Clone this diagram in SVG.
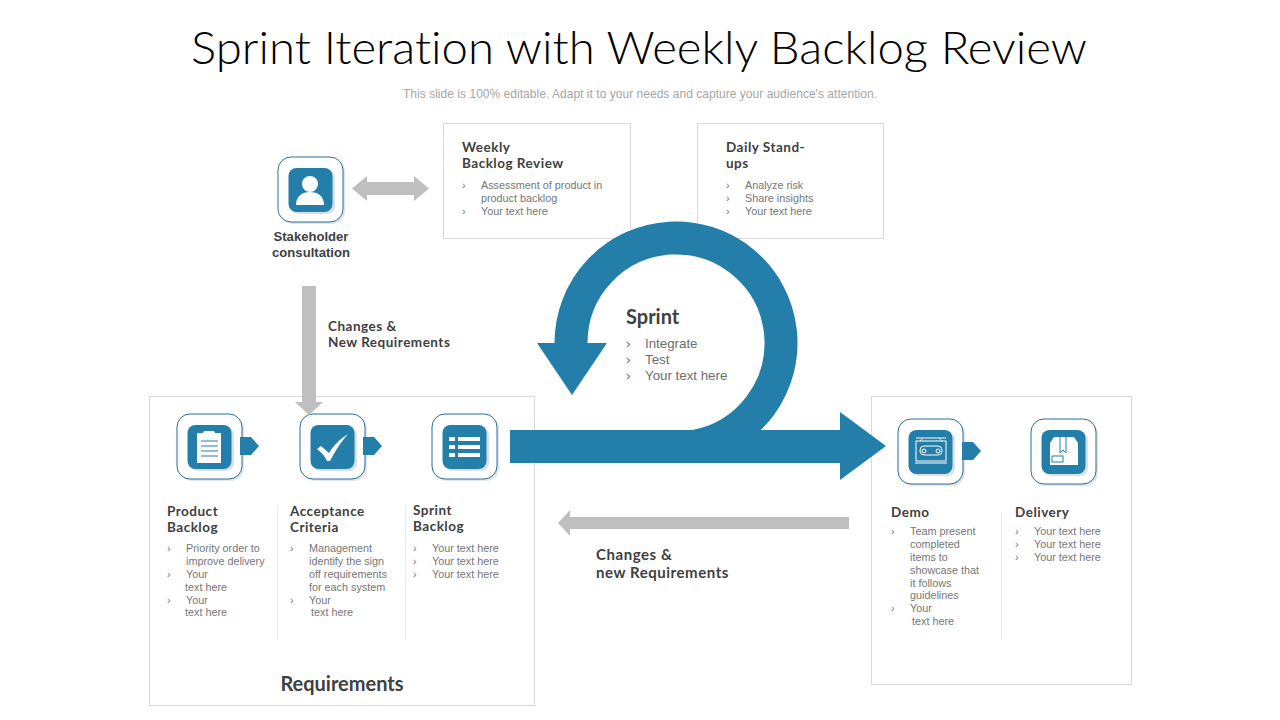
<svg xmlns="http://www.w3.org/2000/svg" width="1280" height="720" viewBox="0 0 1280 720">
<style>
text{font-family:"Liberation Sans",Arial,sans-serif;font-variant-ligatures:none}
.title{font-family:Lato,"Liberation Sans",sans-serif;font-size:45px;font-weight:300;fill:#000}
.sub{font-size:12px;fill:#a6a6a6}
.h{font-family:Lato,"Liberation Sans",sans-serif;font-size:13.5px;font-weight:700;fill:#404040;letter-spacing:.5px}
.st{font-family:"Liberation Sans",sans-serif;font-size:13.1px;font-weight:700;fill:#404040}
.h2{font-size:15px;letter-spacing:.55px}
.b{font-size:10.8px;fill:#767676}
.bm{font-size:13.3px;fill:#6e6e6e}
.box{fill:#fff;stroke:#d9d9d9;stroke-width:1}
.sep{stroke:#ececec;stroke-width:1;fill:none}
.card{fill:#fff;stroke:#2b6f97;stroke-width:1}
.shade{fill:#dfe5e9}
.tile{fill:#237ea9}
.ic{fill:#fff}
.icl{fill:none;stroke:#fff;stroke-width:1}
.icb{fill:none;stroke:#237ea9;stroke-width:1}
.blue{fill:#237ea9}
.grey{fill:#bfbfbf}
</style>
<defs>
<g id="iconbase">
<rect class="shade" x="2" y="2" width="65" height="65" rx="13"/>
<rect class="card" x="0" y="0" width="65" height="65" rx="13"/>
<rect x="13" y="13" width="44" height="44" rx="8" fill="#d8e0e4"/>
<rect class="tile" x="10.500" y="11" width="44" height="44" rx="8"/>
</g>
<path id="tag" d="M0 0H11L19 9L11 18H0Z"/>
</defs>

<text class="title" x="639" y="64" text-anchor="middle" textLength="896" lengthAdjust="spacingAndGlyphs">Sprint Iteration with Weekly Backlog Review</text>
<text class="sub" x="640" y="98" text-anchor="middle" textLength="474">This slide is 100% editable. Adapt it to your needs and capture your audience's attention.</text>

<g id="panels">
<rect class="box" x="443.500" y="123.500" width="187" height="115"/>
<rect class="box" x="697.500" y="123.500" width="186" height="115"/>
<rect class="box" x="149.500" y="396.500" width="385" height="309"/>
<rect class="box" x="871.500" y="396.500" width="260" height="288"/>
<path class="sep" d="M277.500 505V640M405.500 505V640M1001.500 512V640"/>
</g>

<g id="stakeholder">
<use href="#iconbase" x="278" y="157"/>
<circle class="ic" cx="310" cy="184" r="8"/>
<path class="ic" d="M296 205C296 196 302 192 310 192S324 196 324 205Z"/>
<text class="st" x="311" y="241" text-anchor="middle">Stakeholder</text>
<text class="st" x="311" y="257" text-anchor="middle">consultation</text>
</g>

<g id="weekly-review">
<text class="h" x="462" y="152">Weekly</text>
<text class="h" x="462" y="168">Backlog Review</text>
<text class="b" x="462" y="189">›</text><text class="b" x="481" y="189">Assessment of product in</text>
<text class="b" x="481" y="202">product backlog</text>
<text class="b" x="462" y="215">›</text><text class="b" x="481" y="215">Your text here</text>
</g>

<g id="daily-standups">
<text class="h" x="726" y="152">Daily Stand-</text>
<text class="h" x="726" y="168">ups</text>
<text class="b" x="726" y="189">›</text><text class="b" x="745" y="189">Analyze risk</text>
<text class="b" x="726" y="202">›</text><text class="b" x="745" y="202">Share insights</text>
<text class="b" x="726" y="215">›</text><text class="b" x="745" y="215">Your text here</text>
</g>

<g id="changes-top">
<text class="h" x="328" y="331">Changes &amp;</text>
<text class="h" x="328" y="347">New Requirements</text>
</g>

<g id="sprint">
<text x="626" y="324" style="font-family:Lato,'Liberation Sans',sans-serif;font-size:20px;font-weight:700;fill:#404040">Sprint</text>
<text class="bm" x="626" y="348">›</text><text class="bm" x="645" y="348">Integrate</text>
<text class="bm" x="626" y="364">›</text><text class="bm" x="645" y="364">Test</text>
<text class="bm" x="626" y="380">›</text><text class="bm" x="645" y="380">Your text here</text>
</g>

<g id="product-backlog">
<use href="#iconbase" x="177" y="414"/>
<rect class="ic" x="197" y="433" width="24" height="30"/>
<rect class="ic" x="203" y="431" width="12" height="5" rx="2"/>
<path class="icb" d="M201 441H218M201 446H218M201 451H218M201 456H218" stroke-width=".8"/>
<text class="h" x="167" y="516">Product</text>
<text class="h" x="167" y="532">Backlog</text>
<text class="b" x="167" y="552">›</text><text class="b" x="186" y="552">Priority order to</text>
<text class="b" x="186" y="565">improve delivery</text>
<text class="b" x="167" y="578">›</text><text class="b" x="186" y="578">Your</text>
<text class="b" x="185" y="591">text here</text>
<text class="b" x="167" y="604">›</text><text class="b" x="186" y="604">Your</text>
<text class="b" x="185" y="616">text here</text>
</g>

<g id="acceptance-criteria">
<use href="#iconbase" x="300" y="414"/>
<path class="ic" d="M317 449L321 446L329 453C334 445 340 439 348 434C341 442 335 451 330 461H327C325 456 321 452 317 449Z"/>
<text class="h" x="290" y="516">Acceptance</text>
<text class="h" x="290" y="532">Criteria</text>
<text class="b" x="290" y="552">›</text><text class="b" x="309" y="552">Management</text>
<text class="b" x="309" y="565">identify the sign</text>
<text class="b" x="309" y="578">off requirements</text>
<text class="b" x="309" y="591">for each system</text>
<text class="b" x="290" y="604">›</text><text class="b" x="309" y="604">Your</text>
<text class="b" x="311" y="616">text here</text>
</g>

<g id="sprint-backlog">
<use href="#iconbase" x="432" y="414"/>
<path class="ic" d="M449 437H455V441H449ZM458 437H480V441H458ZM449 445H455V449H449ZM458 445H480V449H458ZM449 453H455V457H449ZM458 453H480V457H458Z"/>
<text class="h" x="413" y="515">Sprint</text>
<text class="h" x="413" y="531">Backlog</text>
<text class="b" x="413" y="552">›</text><text class="b" x="432" y="552">Your text here</text>
<text class="b" x="413" y="565">›</text><text class="b" x="432" y="565">Your text here</text>
<text class="b" x="413" y="578">›</text><text class="b" x="432" y="578">Your text here</text>
</g>

<g id="requirements">
<text x="342" y="691" text-anchor="middle" style="font-family:Lato,'Liberation Sans',sans-serif;font-size:20px;font-weight:700;fill:#404040">Requirements</text>
</g>

<g id="changes-bottom">
<text class="h h2" x="596" y="560">Changes &amp;</text>
<text class="h h2" x="596" y="578">new Requirements</text>
</g>

<g id="demo">
<use href="#iconbase" x="898" y="419"/>
<rect class="icl" x="916" y="441" width="30" height="20"/>
<path class="icl" d="M916 438H946M920 441L923 438M942 441L939 438M915 463H947"/>
<rect class="icl" x="920" y="446" width="22" height="9" rx="4"/>
<circle class="icl" cx="924" cy="451" r="2"/><circle class="icl" cx="938" cy="451" r="2"/>
<text class="h" x="891" y="517">Demo</text>
<text class="b" x="891" y="535">›</text><text class="b" x="910" y="535">Team present</text>
<text class="b" x="910" y="548">completed</text>
<text class="b" x="910" y="561">items to</text>
<text class="b" x="910" y="574">showcase  that</text>
<text class="b" x="910" y="587">it follows</text>
<text class="b" x="910" y="599">guidelines</text>
<text class="b" x="891" y="612">›</text><text class="b" x="910" y="612">Your</text>
<text class="b" x="912" y="625">text here</text>
</g>

<g id="delivery">
<use href="#iconbase" x="1031" y="419"/>
<path class="ic" d="M1050 443L1054 437H1074L1078 443V465H1050Z"/>
<path class="icb" d="M1060 437V453L1063 450L1066 453V437"/>
<rect class="icb" x="1052" y="456" width="11" height="6"/>
<text class="h" x="1015" y="517">Delivery</text>
<text class="b" x="1015" y="535">›</text><text class="b" x="1034" y="535">Your text here</text>
<text class="b" x="1015" y="548">›</text><text class="b" x="1034" y="548">Your text here</text>
<text class="b" x="1015" y="561">›</text><text class="b" x="1034" y="561">Your text here</text>
</g>

<g id="connectors">
<path class="grey" d="M352 188.500L367 176V182H414V176L429 188.500L414 201V195H367V201Z"/>
<path class="grey" d="M302 286H316V402H323L309 415L295 402H302Z"/>
<path class="grey" d="M849 517V529H570V536L558 523L570 510V517Z"/>
<path class="blue" d="M510 430H840V412L886 446L840 480V463H510Z"/>
<path d="M571 343A105 105 0 1 1 694 446.400" fill="none" stroke="#237ea9" stroke-width="33"/>
<path class="blue" d="M537 343H607L572 395Z"/>
<use href="#tag" class="blue" x="240" y="437"/>
<use href="#tag" class="blue" x="363" y="437"/>
<use href="#tag" class="blue" x="962" y="442"/>
</g>
</svg>
